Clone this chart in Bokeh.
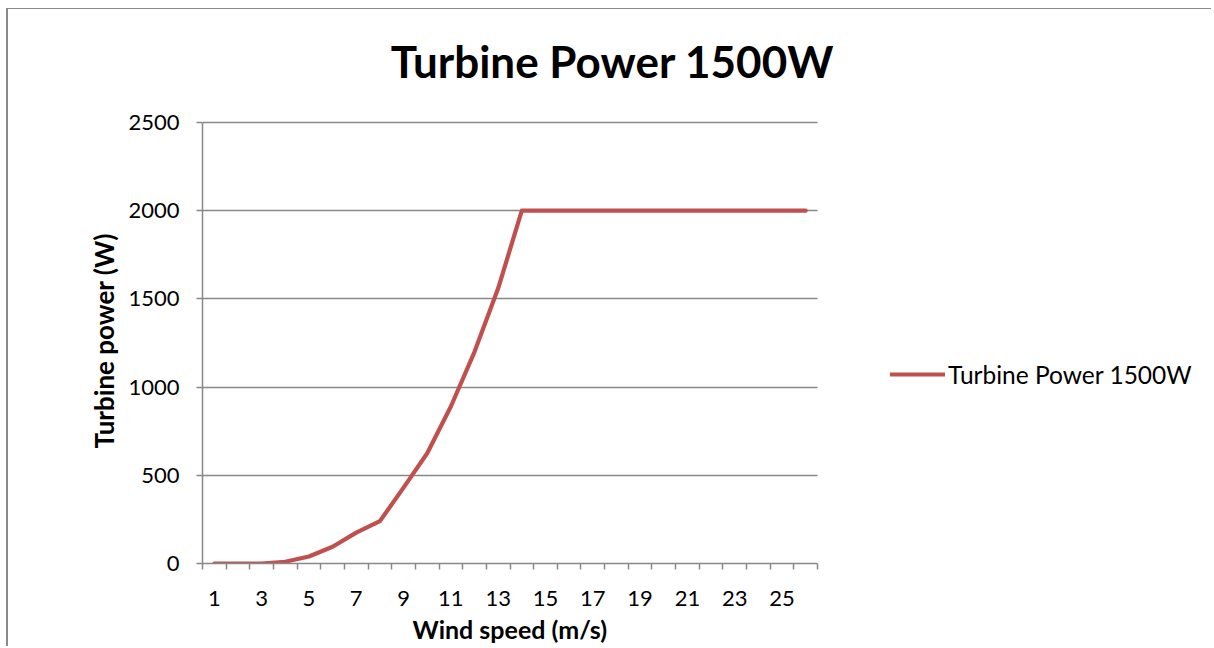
from bokeh.plotting import figure
from bokeh.models import FixedTicker, Legend, LegendItem, Range1d, Title, Label
from bokeh.embed import file_html
from bokeh.resources import INLINE

wind_speed = list(range(1, 27))
power = [0, 0, 0, 10, 40, 95, 175, 240, 430, 625, 890, 1200, 1560, 2000,
         2000, 2000, 2000, 2000, 2000, 2000, 2000, 2000, 2000, 2000, 2000, 2000]
x_tick_labels = [1, 3, 5, 7, 9, 11, 13, 15, 17, 19, 21, 23, 25]
y_ticks = [0, 500, 1000, 1500, 2000, 2500]

FONT = "Lato"
GRAY = "#888888"
RED = "#C0504D"

# layout constants (pixels)
W, H = 1205, 638
LEFT, BOTTOM = 194, 84
AXIS_W, AXIS_H = 615, 441          # visible axis box size
FRAME_W, FRAME_H = W - LEFT, H - BOTTOM
n = len(wind_speed)
x_end = 0.5 + n * FRAME_W / AXIS_W
y_end = max(y_ticks) * FRAME_H / AXIS_H

p = figure(width=W, height=H, output_backend="svg", toolbar_location=None,
           x_range=Range1d(0.5, x_end), y_range=Range1d(0, y_end),
           min_border_left=LEFT, min_border_right=0, min_border_top=0,
           min_border_bottom=BOTTOM,
           styles={"margin-left": "6px", "margin-top": "8px",
                   "border-top": "1px solid #8a8a8a",
                   "border-left": "2px solid #8a8a8a"})
p.outline_line_color = None
p.background_fill_color = "white"
p.border_fill_color = "white"

r = p.line(wind_speed, power, line_color=RED, line_width=4.2,
           line_cap="round", line_join="round")

# chart title
p.add_layout(Label(x=410, y=503, x_units="screen", y_units="screen",
                   text="Turbine Power 1500W", text_align="center",
                   text_baseline="alphabetic", text_font=FONT,
                   text_font_size="44px", text_font_style="bold",
                   text_color="black"))

# x axis
xa = p.xaxis[0]
xa.bounds = (0.5, n + 0.5)
xa.ticker = FixedTicker(ticks=x_tick_labels,
                        minor_ticks=[i + 0.5 for i in range(0, n + 1)])
xa.major_tick_in = 0
xa.major_tick_out = 0
xa.minor_tick_in = 0
xa.minor_tick_out = 6
xa.minor_tick_line_color = GRAY
xa.minor_tick_line_width = 1.5
xa.axis_line_color = GRAY
xa.axis_line_width = 1.5
xa.major_label_text_font = FONT
xa.major_label_text_font_size = "22px"
xa.major_label_text_color = "black"
xa.major_label_standoff = 21

p.add_layout(Title(text="Wind speed (m/s)", align="left", offset=210,
                   text_font=FONT, text_font_size="25px",
                   text_font_style="bold", text_color="black", standoff=6),
             "below")

# y axis
ya = p.yaxis[0]
ya.bounds = (0, max(y_ticks))
ya.ticker = FixedTicker(ticks=y_ticks)
ya.major_tick_in = 0
ya.major_tick_out = 6
ya.minor_tick_out = 0
ya.minor_tick_in = 0
ya.major_tick_line_color = GRAY
ya.major_tick_line_width = 1.5
ya.axis_line_color = GRAY
ya.axis_line_width = 1.5
ya.major_label_text_font = FONT
ya.major_label_text_font_size = "22px"
ya.major_label_text_color = "black"
ya.major_label_standoff = 17

p.add_layout(Title(text="Turbine power (W)", align="left", offset=115,
                   text_font=FONT, text_font_size="26px",
                   text_font_style="bold", text_color="black", standoff=12),
             "left")

p.xgrid.grid_line_color = None
p.ygrid.grid_line_color = GRAY
p.ygrid.grid_line_width = 1.5
p.ygrid.ticker = FixedTicker(ticks=y_ticks)
p.ygrid.cross_bounds = (0.5, n + 0.5)

legend = Legend(items=[LegendItem(label="Turbine Power 1500W", renderers=[r])],
                location=(688, 174), glyph_width=55, glyph_height=30,
                label_height=30, label_standoff=3, padding=0, margin=0,
                spacing=0, border_line_color=None, background_fill_alpha=0,
                label_text_font=FONT, label_text_font_size="24.5px",
                label_text_color="black")
p.add_layout(legend, "center")

open("out.html", "w").write(file_html(p, INLINE))
